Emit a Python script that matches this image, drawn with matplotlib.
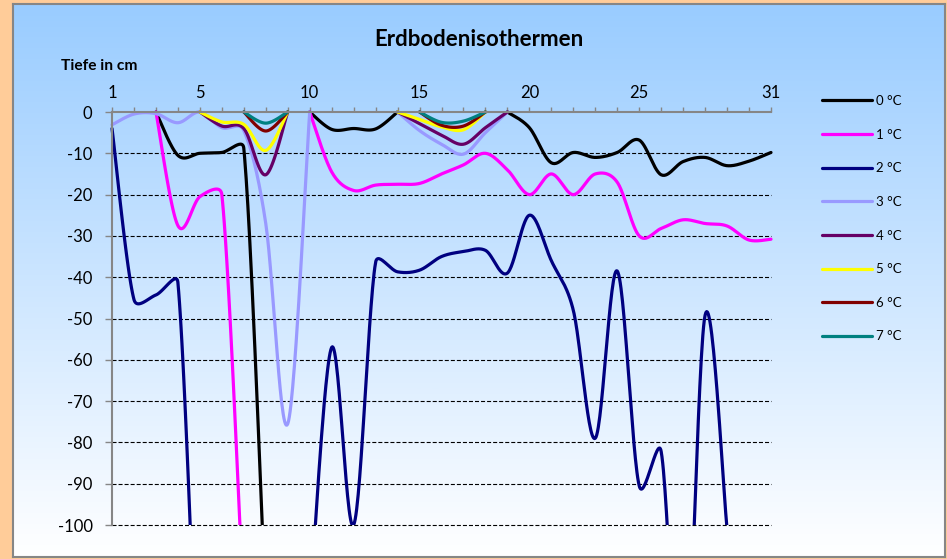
import numpy as np
import matplotlib.pyplot as plt
from matplotlib.patches import Rectangle

plt.rcParams['font.family'] = ['Lato', 'DejaVu Sans']
plt.rcParams['axes.unicode_minus'] = False
plt.rcParams['lines.scale_dashes'] = False

nan = np.nan
days = np.arange(1, 32)

# depth (cm) of each isotherm per day, nan = isotherm not present
t0 = [nan, nan, 0, -10.5, -10, -9.8, -8.8, -120, nan, 0, -4.2, -4, -4.1, 0, nan, nan,
      nan, nan, 0, -3.8, -12.3, -9.8, -11, -9.8, -6.8, -15.2, -12, -11, -13, -11.9, -9.8]
t1 = [nan, nan, 0, -27.5, -20.5, -20, -120, nan, nan, 0, -14.5, -19, -17.7, -17.5, -17.3, -15,
      -12.8, -10, -14, -20, -15, -20, -15, -17, -30, -28.2, -26.1, -27, -27.6, -31, -30.8]
t2 = [-4, -45.4, -44.3, -41.3, -160, nan, nan, nan, nan, -120, -57, -100, -36.4, -38.7, -38.3, -35,
      -33.8, -33.5, -39, -25, -36, -48, -79, -38.5, -90.5, -82.2, -150, -49.2, -101, nan, nan]
t3 = [-3.1, -0.5, -0.4, -2.6, 0, -3.8, -4.5, -27, -75.5, 0, nan, nan, nan, 0, -4.5, -7.8,
      -10.2, -5, 0, nan, nan, nan, nan, nan, nan, nan, nan, nan, nan, nan, nan]
t4 = [nan, nan, nan, nan, 0, -3.4, -4, -15.2, 0, nan, nan, nan, nan, 0, -2.8, -5.6,
      -7.8, -3.8, 0, nan, nan, nan, nan, nan, nan, nan, nan, nan, nan, nan, nan]
t5 = [nan, nan, nan, nan, 0, -2.4, -3, -9.3, 0, nan, nan, nan, nan, 0, -1.8, -3.6,
      -4.3, 0, nan, nan, nan, nan, nan, nan, nan, nan, nan, nan, nan, nan, nan]
t6 = [nan, nan, nan, nan, nan, nan, 0, -4.6, 0, nan, nan, nan, nan, nan, 0, -3.2,
      -3.4, 0, nan, nan, nan, nan, nan, nan, nan, nan, nan, nan, nan, nan, nan]
t7 = [nan, nan, nan, nan, nan, nan, 0, -2.7, 0, nan, nan, nan, nan, nan, 0, -2.5,
      -2.2, 0, nan, nan, nan, nan, nan, nan, nan, nan, nan, nan, nan, nan, nan]

series = [t0, t1, t2, t3, t4, t5, t6, t7]
labels = ['0 °C', '1 °C', '2 °C', '3 °C', '4 °C', '5 °C', '6 °C', '7 °C']
colors = ['#000000', '#FF00FF', '#000080', '#9999FF', '#660066', '#FFFF00', '#800000', '#008080']
xlabels = [1, 5, 10, 15, 20, 25, 31]
yticks = np.arange(0, -101, -10)


def smooth(ax, xs, ys):
    # excel like smoothing: bezier segments, control points limited to half a segment
    p = ax.transData.transform(np.column_stack([xs, ys]))
    n = len(p)
    t = np.linspace(0, 1, 30)[:, None]
    out = []
    for i in range(n - 1):
        p0, p1, p2, p3 = p[max(i - 1, 0)], p[i], p[i + 1], p[min(i + 2, n - 1)]
        seg = np.hypot(*(p2 - p1))
        d1 = p2 - p0
        l1 = np.hypot(*d1)
        f1 = 1 / 6 if l1 / 6 <= seg / 2 else seg / 2 / l1
        d2 = p3 - p1
        l2 = np.hypot(*d2)
        f2 = 1 / 6 if l2 / 6 <= seg / 2 else seg / 2 / l2
        c1 = p1 + d1 * f1
        c2 = p2 - d2 * f2
        b = (1 - t)**3 * p1 + 3 * (1 - t)**2 * t * c1 + 3 * (1 - t) * t**2 * c2 + t**3 * p2
        out.append(b if i == 0 else b[1:])
    return ax.transData.inverted().transform(np.vstack(out))


fig = plt.figure(figsize=(9.47, 5.59), dpi=100, facecolor='#FFCC99')

# chart area with blue -> white gradient
bg = fig.add_axes([13 / 947, 2 / 559, 932 / 947, 553 / 559])
top = np.array([153, 204, 255]) / 255
g = np.linspace(0, 1, 256)[:, None, None]
bg.imshow(top + (1 - top) * g, aspect='auto', extent=[0, 1, 0, 1])
bg.set_xticks([])
bg.set_yticks([])
for s in bg.spines.values():
    s.set_color('#868686')
    s.set_linewidth(1.5)

ax = fig.add_axes([112 / 947, 34 / 559, 659 / 947, 413 / 559])
ax.patch.set_alpha(0)
ax.set_xlim(1, 31)
ax.set_ylim(-100, 0)

ax.hlines(yticks[1:], 1, 31, colors='black', lw=0.8, linestyles=(0, (2.9, 1.45)), clip_on=False, zorder=1)

clip = Rectangle((0, -100), 32, 110, transform=ax.transData)
handles = []
for vals, lab, col in zip(series, labels, colors):
    v = np.array(vals, dtype=float)
    ok = ~np.isnan(v)
    # split into connected runs
    edges = np.flatnonzero(np.diff(np.r_[0, ok.astype(int), 0]))
    h = None
    for a, b in zip(edges[::2], edges[1::2]):
        xy = smooth(ax, days[a:b], v[a:b])
        h, = ax.plot(xy[:, 0], xy[:, 1], color=col, lw=2.3, solid_capstyle='round',
                     solid_joinstyle='round', label=lab)
        h.set_clip_path(clip)
    handles.append(h)

for s in ['right', 'bottom']:
    ax.spines[s].set_visible(False)
for s in ['left', 'top']:
    ax.spines[s].set_color('#868686')
    ax.spines[s].set_linewidth(1.5)

ax.xaxis.tick_top()
ax.set_xticks(xlabels)
ax.set_xticks(days, minor=True)
ax.tick_params(axis='x', which='both', length=3.6, width=1, color='#868686', labelsize=12, pad=4)
ax.set_yticks(yticks)
ax.tick_params(axis='y', length=5, width=1, color='#868686', labelsize=12, pad=9)

fig.text(479 / 947, 1 - 39 / 559, 'Erdbodenisothermen', ha='center', va='center',
         fontsize=16, fontweight='bold')
fig.text(99 / 947, 1 - 66 / 559, 'Tiefe in cm', ha='center', va='center',
         fontsize=11.2, fontweight='bold')

fig.legend(handles, labels, loc='upper left', bbox_to_anchor=(822 / 947, 1 - 95 / 559),
           frameon=False, fontsize=9.5, handlelength=3.8, handletextpad=0.3,
           labelspacing=1.64, borderpad=0, borderaxespad=0)

fig.savefig('out.png', dpi=100, facecolor=fig.get_facecolor())
